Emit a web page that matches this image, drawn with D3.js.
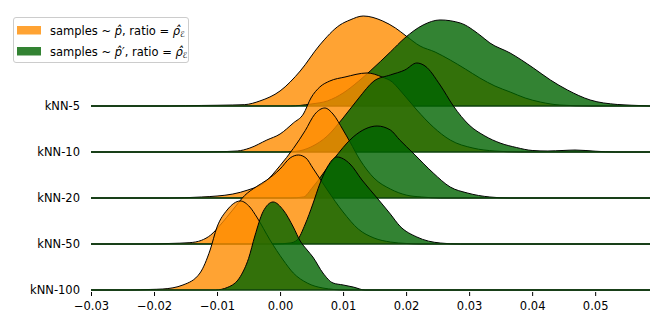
<!DOCTYPE html>
<html>
<head>
<meta charset="utf-8">
<script src="https://cdn.jsdelivr.net/npm/d3@7"></script>
<style>
  body { margin: 0; background: #fff; }
  text { font-family: "DejaVu Sans", sans-serif; }
</style>
</head>
<body>
<div id="chart"></div>
<script>
const rowLabels = ["kNN-5", "kNN-10", "kNN-20", "kNN-50", "kNN-100"]
const xTicks = [-0.03, -0.02, -0.01, 0.00, 0.01, 0.02, 0.03, 0.04, 0.05]
const xDomain = [-0.03, 0.0587]

// density curves as [x, density]; density is relative to the row's peak
const knn5Orange = [[-0.03,0],[-0.0175,0],[-0.0125,0.006],[-0.01,0.008],[-0.0075,0.011],[-0.0056,0.015],[-0.0032,0.056],[0,0.167],[0.0032,0.389],[0.0063,0.678],[0.0095,0.9],[0.0111,0.956],[0.0132,1.0],[0.0163,0.944],[0.0183,0.867],[0.02,0.778],[0.0222,0.667],[0.0246,0.6],[0.027,0.511],[0.0294,0.411],[0.0317,0.311],[0.0341,0.222],[0.0365,0.156],[0.0389,0.089],[0.0413,0.044],[0.0444,0.011],[0.0492,0],[0.0587,0]]
const knn5Green = [[-0.03,0],[0.0016,0],[0.0049,0.022],[0.0075,0.056],[0.01,0.144],[0.0125,0.278],[0.0143,0.389],[0.0175,0.6],[0.0198,0.756],[0.0227,0.9],[0.0254,0.956],[0.0286,0.922],[0.0317,0.789],[0.0333,0.7],[0.0365,0.589],[0.0402,0.422],[0.0429,0.289],[0.0456,0.178],[0.0492,0.067],[0.0535,0.017],[0.0579,0.003],[0.0587,0]]

const knn10Orange = [[-0.03,0],[-0.0127,0],[-0.01,0.003],[-0.0068,0.011],[-0.0048,0.044],[-0.0021,0.133],[0,0.2],[0.0021,0.322],[0.0037,0.422],[0.0049,0.6],[0.0063,0.722],[0.0079,0.789],[0.0103,0.833],[0.0138,0.878],[0.0162,0.833],[0.0178,0.778],[0.019,0.689],[0.0217,0.467],[0.0243,0.278],[0.027,0.133],[0.0306,0.044],[0.0341,0.011],[0.0381,0],[0.0587,0]]
const knn10Green = [[-0.03,0],[0,0],[0.0024,0.006],[0.0049,0.056],[0.0075,0.178],[0.01,0.378],[0.0125,0.6],[0.0149,0.789],[0.0175,0.856],[0.0198,0.911],[0.0217,0.989],[0.023,0.956],[0.0254,0.744],[0.0275,0.511],[0.03,0.3],[0.0325,0.178],[0.0349,0.1],[0.0375,0.05],[0.04,0.017],[0.0425,0.011],[0.0449,0.017],[0.0468,0.022],[0.05,0.009],[0.0532,0],[0.0587,0]]

const knn20Orange = [[-0.03,0],[-0.0175,0],[-0.0151,0.003],[-0.0125,0.011],[-0.01,0.022],[-0.0075,0.044],[-0.0051,0.089],[-0.0025,0.17],[0,0.36],[0.0021,0.55],[0.004,0.75],[0.0055,0.93],[0.0071,1.0],[0.0084,0.933],[0.01,0.756],[0.0111,0.622],[0.0127,0.422],[0.0149,0.222],[0.0175,0.1],[0.02,0.033],[0.0225,0.011],[0.0254,0],[0.0587,0]]
const knn20Green = [[-0.03,0],[0.0016,0],[0.0037,0.011],[0.0052,0.122],[0.0084,0.422],[0.0116,0.678],[0.0135,0.767],[0.0154,0.8],[0.0175,0.756],[0.019,0.644],[0.0211,0.5],[0.0243,0.278],[0.027,0.122],[0.0297,0.056],[0.0333,0.011],[0.0365,0],[0.0587,0]]

const knn50Orange = [[-0.03,0],[-0.0206,0],[-0.0175,0.006],[-0.0143,0.015],[-0.0125,0.04],[-0.011,0.1],[-0.0095,0.21],[-0.0075,0.38],[-0.0056,0.54],[-0.0037,0.64],[-0.0021,0.711],[0,0.833],[0.0016,0.956],[0.0029,0.989],[0.0041,0.956],[0.0052,0.844],[0.0075,0.6],[0.01,0.356],[0.0124,0.167],[0.0149,0.067],[0.0175,0.022],[0.02,0.006],[0.0222,0],[0.0587,0]]
const knn50Green = [[-0.03,0],[-0.0008,0],[0.0016,0.011],[0.0027,0.044],[0.004,0.222],[0.0052,0.444],[0.0063,0.667],[0.0076,0.867],[0.009,0.967],[0.0111,0.889],[0.013,0.711],[0.0154,0.511],[0.0175,0.333],[0.019,0.2],[0.0217,0.078],[0.0254,0.011],[0.0286,0],[0.0587,0]]

const knn100Orange = [[-0.03,0],[-0.0238,0],[-0.0206,0.006],[-0.0186,0.011],[-0.0154,0.056],[-0.0127,0.189],[-0.0111,0.444],[-0.01,0.7],[-0.0084,0.889],[-0.0063,0.989],[-0.0048,0.922],[-0.0037,0.811],[-0.0016,0.556],[0.0005,0.333],[0.0021,0.189],[0.0043,0.078],[0.0068,0.022],[0.0103,0],[0.0587,0]]
const knn100Green = [[-0.03,0],[-0.0103,0],[-0.0083,0.03],[-0.0063,0.15],[-0.005,0.35],[-0.004,0.6],[-0.0027,0.87],[-0.0011,0.978],[0.0005,0.889],[0.0021,0.7],[0.0032,0.544],[0.0043,0.444],[0.0052,0.367],[0.0068,0.189],[0.0084,0.078],[0.01,0.056],[0.0116,0.033],[0.0135,0],[0.0587,0]]

const orangeSeries = [knn5Orange, knn10Orange, knn20Orange, knn50Orange, knn100Orange]
const greenSeries = [knn5Green, knn10Green, knn20Green, knn50Green, knn100Green]

const width = 664, height = 332
const rowTop = 106, rowStep = 46, peakHeight = 90
const fontSize = 11.5

let svg = d3.select("#chart").append("svg")
    .attr("width", width)
    .attr("height", height)

let x = d3.scaleLinear().domain(xDomain).range([91, 650])
let h = d3.scaleLinear().domain([0, 1]).range([0, peakHeight])

// each row drawn after the one above, so lower rows sit on top
rowLabels.forEach((label, i) => {
    let base = rowTop + i * rowStep
    let area = d3.area()
        .x(d => x(d[0]))
        .y0(base)
        .y1(d => base - h(d[1]))
        .curve(d3.curveMonotoneX)
    let line = d3.line()
        .x(d => x(d[0]))
        .y(d => base - h(d[1]))
        .curve(d3.curveMonotoneX)

    let g = svg.append("g").attr("class", "row")
    ;[[orangeSeries[i], "#ff8c00"], [greenSeries[i], "#006400"]].forEach(([data, color]) => {
        g.append("path")
            .attr("d", area(data))
            .attr("fill", color)
            .attr("fill-opacity", 0.8)
        g.append("path")
            .attr("d", line(data))
            .attr("fill", "none")
            .attr("stroke", "#000")
            .attr("stroke-width", 1)
    })
    g.append("line")
        .attr("x1", x(xDomain[0])).attr("x2", x(xDomain[1]))
        .attr("y1", base).attr("y2", base)
        .attr("stroke", "#0d400d")
        .attr("stroke-width", 1.5)

    svg.append("text")
        .attr("x", 80)
        .attr("y", base)
        .attr("dy", "0.35em")
        .attr("text-anchor", "end")
        .attr("font-size", fontSize)
        .text(label)
})

// x axis without a domain line
let axisY = rowTop + (rowLabels.length - 1) * rowStep + 2
let axis = svg.append("g")
    .attr("transform", `translate(0,${axisY})`)
    .call(d3.axisBottom(x)
        .tickValues(xTicks)
        .tickSize(4)
        .tickPadding(6)
        .tickFormat(d => d3.format(".2f")(d).replace("-", "\u2212")))
axis.select(".domain").remove()
axis.selectAll("text")
    .attr("font-size", fontSize)
    .attr("font-family", "DejaVu Sans")
    .attr("fill", "#000")

// legend
let legend = svg.append("g")
legend.append("rect")
    .attr("x", 13.5).attr("y", 17.5)
    .attr("width", 175).attr("height", 45)
    .attr("rx", 2.5)
    .attr("fill", "#fff").attr("fill-opacity", 0.8)
    .attr("stroke", "#cccccc")

const legendItems = [
    {color: "#ff8c00", p: "p\u0302"},
    {color: "#006400", p: "p\u0302\u2032"}
]
legendItems.forEach((item, i) => {
    let y = 26 + i * 21
    legend.append("rect")
        .attr("x", 17).attr("y", y)
        .attr("width", 24).attr("height", 8.5)
        .attr("fill", item.color).attr("fill-opacity", 0.8)
    let t = legend.append("text")
        .attr("x", 50).attr("y", y + 8.5)
        .attr("font-size", fontSize)
    t.append("tspan").text("samples ~ ")
    t.append("tspan").attr("font-style", "italic").text(item.p)
    t.append("tspan").text(", ratio = ")
    t.append("tspan").attr("font-style", "italic").text("\u03c1\u0302")
    t.append("tspan").attr("font-size", 8).attr("font-style", "italic").attr("dy", 2).text("\u2130")
})
</script>
</body>
</html>
